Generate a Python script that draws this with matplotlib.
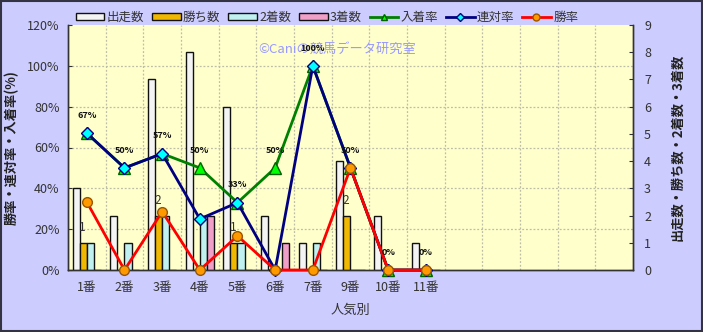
import numpy as np
import matplotlib
matplotlib.use("Agg")
import matplotlib.pyplot as plt
from matplotlib.patches import Rectangle
from matplotlib.lines import Line2D
from matplotlib.patches import Patch

plt.rcParams['font.family'] = ['Noto Sans CJK JP', 'DejaVu Sans']

# Popularity ranks (last five slots are empty)
categories = ["1番", "2番", "3番", "4番", "5番", "6番", "7番", "9番", "10番", "11番",
              "", "", "", "", ""]

# Counts (right axis)
runs   = [3, 2, 7, 8, 6, 2, 1, 4, 2, 1]
wins   = [1, 0, 2, 0, 1, 0, 0, 2, 0, 0]
second = [1, 1, 2, 2, 1, 0, 1, 0, 0, 0]
third  = [0, 0, 0, 2, 0, 1, 0, 0, 0, 0]

# Rates in percent (left axis)
place_rate = [67, 50, 57, 50, 33, 50, 100, 50, 0, 0]      # 入着率
quinella_rate = [67, 50, 57, 25, 33, 0, 100, 50, 0, 0]     # 連対率
win_rate = [33.3, 0, 28.6, 0, 16.7, 0, 0, 50, 0, 0]        # 勝率
place_labels = ["67%", "50%", "57%", "50%", "33%", "50%", "100%", "50%", "0%", "0%"]

fig = plt.figure(figsize=(7.03, 3.32), dpi=100)
fig.patch.set_facecolor("#CCCCFF")
fig.patches.append(Rectangle((0.001, 0.002), 0.997, 0.995, transform=fig.transFigure,
                             fill=False, edgecolor="#333344", linewidth=1.5))

ax = fig.add_axes([68 / 703, 1 - 270 / 332, (633 - 68) / 703, (270 - 25) / 332])
ax.set_facecolor("#FFFFCC")
ax2 = ax.twinx()

n = len(categories)
x_all = np.arange(n)
x = np.arange(len(runs))
w = 0.19

ax.set_xlim(-0.5, n - 0.5)
ax.set_ylim(0, 120)
ax2.set_ylim(0, 9)
ax2.set_xlim(-0.5, n - 0.5)

# grid
grid_kw = dict(color="#BDBDA8", linestyle=(0, (1.5, 1.5)), linewidth=0.9, zorder=0)
for yv in range(20, 120, 20):
    ax.axhline(yv, **grid_kw)
for xv in np.arange(0.5, n - 0.5, 1):
    ax.axvline(xv, **grid_kw)

# bars on the count axis
bar_kw = dict(width=w, edgecolor="#111111", linewidth=1.0, zorder=2)
ax2.bar(x - 1.5 * w, runs, color="#F4F4F4", **bar_kw)
ax2.bar(x - 0.5 * w, wins, color="#F0B800", **bar_kw)
ax2.bar(x + 0.5 * w, second, color="#C0F0F0", **bar_kw)
ax2.bar(x + 1.5 * w, third, color="#F0A0C8", **bar_kw)
for xi, v in zip(x, wins):
    if v > 0:
        ax2.text(xi - 0.6 * w, v + 0.55, str(v), ha="center", va="center",
                 fontsize=8.5, color="#333333", zorder=6)

# rate lines, drawn on the count axis scale so they sit above the bars
scale = 9 / 120
pr = np.array(place_rate) * scale
qr = np.array(quinella_rate) * scale
wr = np.array(win_rate) * scale
ax2.plot(x, pr, color="#008000", linewidth=2, marker="^", markersize=8,
         markerfacecolor="#00FF00", markeredgecolor="#006000", zorder=4, clip_on=False)
ax2.plot(x, qr, color="#000080", linewidth=2, marker="D", markersize=6,
         markerfacecolor="#00FFFF", markeredgecolor="#000080", zorder=4.5, clip_on=False)
ax2.plot(x, wr, color="#FF0000", linewidth=2, marker="o", markersize=7,
         markerfacecolor="#FF9900", markeredgecolor="#995500", zorder=5, clip_on=False)
for xi, v, lab in zip(x, pr, place_labels):
    ax2.text(xi, v + 0.65, lab, ha="center", va="center", fontsize=6.5,
             fontweight="bold", color="#111111", zorder=6)

# watermark
ax.text(0.476, 0.902, "©Caniの競馬データ研究室", transform=ax.transAxes,
        ha="center", va="center", fontsize=9.5, color="#9999FF", zorder=1)

# axes styling
ax.set_xticks(x_all)
ax.set_xticklabels(categories, fontsize=9, color="#333333")
ax.set_yticks(range(0, 121, 20))
ax.set_yticklabels([f"{v}%" for v in range(0, 121, 20)], fontsize=9, color="#333333")
ax2.set_yticks(range(0, 10))
ax2.set_yticklabels([str(v) for v in range(0, 10)], fontsize=9, color="#333333")
ax.tick_params(axis="x", length=0, pad=8)
ax.tick_params(axis="y", direction="in", length=3, pad=6, color="#333333")
ax2.tick_params(axis="y", direction="in", length=3, pad=8, color="#333333")
for a in (ax, ax2):
    a.spines["top"].set_visible(False)
    for s in ("left", "right", "bottom"):
        a.spines[s].set_color("#333333")
        a.spines[s].set_linewidth(1.0)

ax.set_xlabel("人気別", fontsize=9.5, color="#333333", labelpad=7)
ax.set_ylabel("勝率・連対率・入着率(%)", fontsize=9.5, fontweight="bold", color="#222222", labelpad=6)
ax2.set_ylabel("出走数・勝ち数・2着数・3着数", fontsize=9.5, fontweight="bold", color="#222222", labelpad=14)

handles = [
    Patch(facecolor="#F4F4F4", edgecolor="#111111", label="出走数"),
    Patch(facecolor="#F0B800", edgecolor="#111111", label="勝ち数"),
    Patch(facecolor="#C0F0F0", edgecolor="#111111", label="2着数"),
    Patch(facecolor="#F0A0C8", edgecolor="#111111", label="3着数"),
    Line2D([], [], color="#008000", linewidth=2, marker="^", markersize=5,
           markerfacecolor="#00FF00", markeredgecolor="#006000", label="入着率"),
    Line2D([], [], color="#000080", linewidth=2, marker="D", markersize=4,
           markerfacecolor="#00FFFF", markeredgecolor="#000080", label="連対率"),
    Line2D([], [], color="#FF0000", linewidth=2, marker="o", markersize=5,
           markerfacecolor="#FF9900", markeredgecolor="#995500", label="勝率"),
]
fig.legend(handles=handles, loc="center", bbox_to_anchor=(0.465, 0.947), ncol=7,
           frameon=False, fontsize=9, handlelength=2.3, handleheight=0.45,
           handletextpad=0.2, columnspacing=0.6, labelcolor="#333333")

fig.savefig("out.png", dpi=100, facecolor=fig.get_facecolor())
